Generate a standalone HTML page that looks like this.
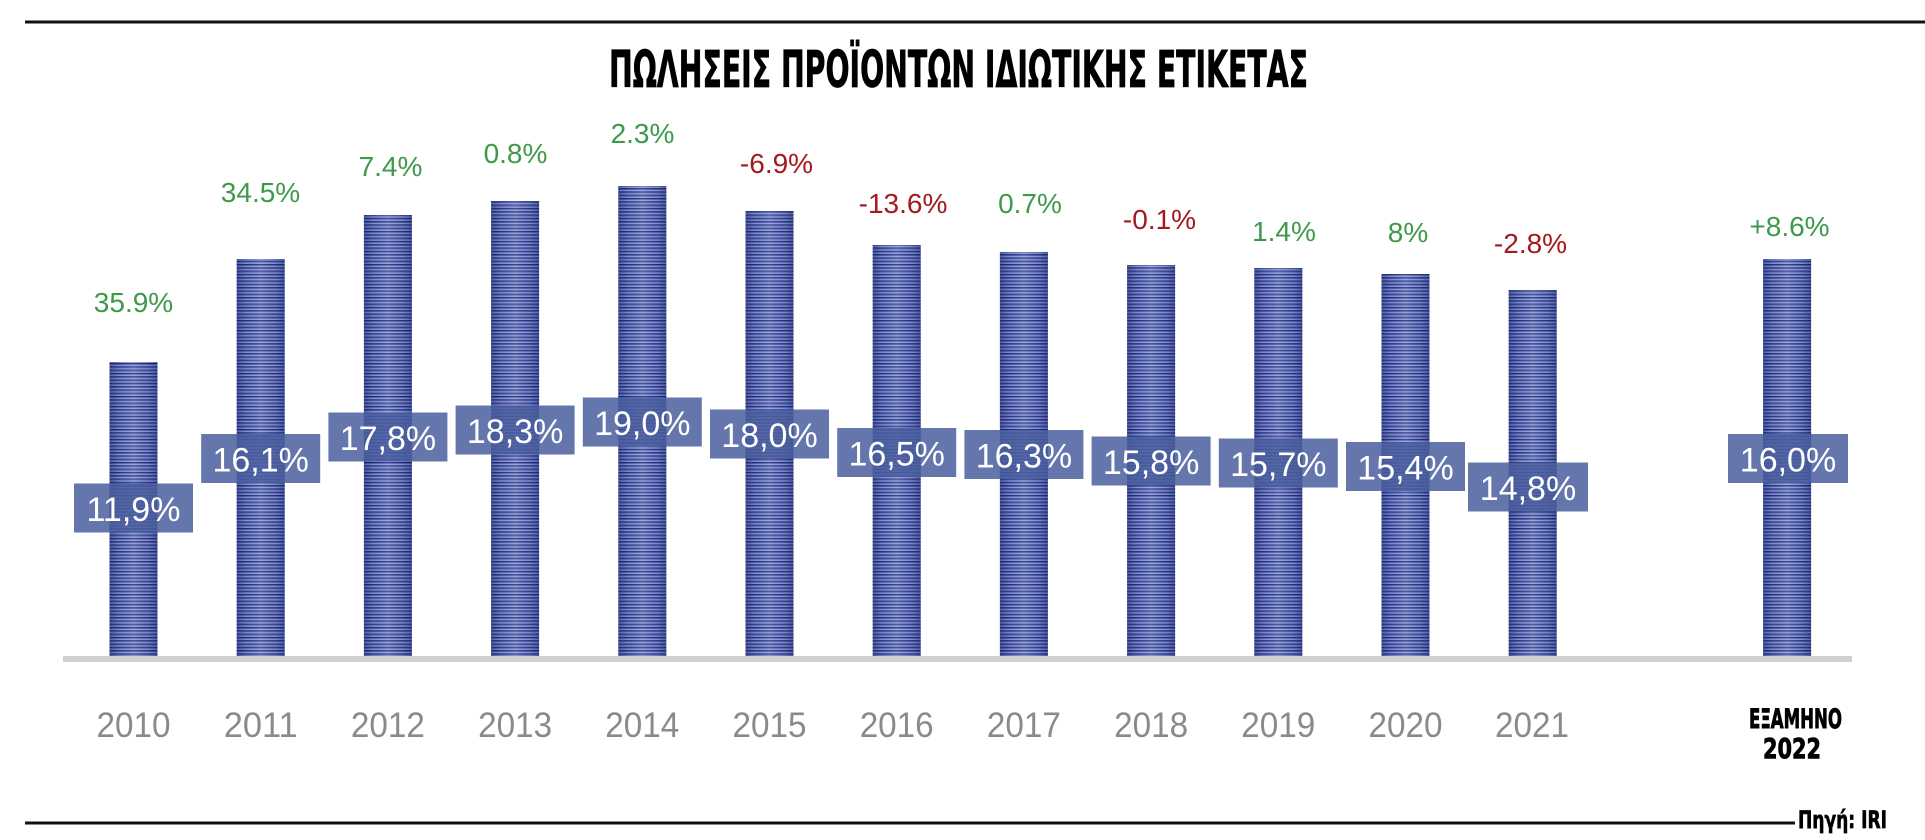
<!DOCTYPE html>
<html>
<head>
<meta charset="utf-8">
<style>
html,body{margin:0;padding:0;background:#fff;}
svg{display:block;}
</style>
</head>
<body>
<svg width="1925" height="840" viewBox="0 0 1925 840" xmlns="http://www.w3.org/2000/svg">
<defs>
  <pattern id="stripes" patternUnits="userSpaceOnUse" width="10" height="3.3">
    <rect x="0" y="0" width="10" height="1.2" fill="#1e2b7e"/>
    <rect x="0" y="1.2" width="10" height="0.9" fill="#4253a8"/>
    <rect x="0" y="2.1" width="10" height="1.2" fill="#8a98d8"/>
  </pattern>
  <linearGradient id="cyl" x1="0" y1="0" x2="1" y2="0">
    <stop offset="0" stop-color="#101a60" stop-opacity="0.45"/>
    <stop offset="0.2" stop-color="#101a60" stop-opacity="0.1"/>
    <stop offset="0.5" stop-color="#ffffff" stop-opacity="0.12"/>
    <stop offset="0.8" stop-color="#101a60" stop-opacity="0.1"/>
    <stop offset="1" stop-color="#101a60" stop-opacity="0.45"/>
  </linearGradient>
</defs>

<!-- top rule -->
<rect x="25" y="20.5" width="1900" height="3" fill="#111"/>

<!-- title -->
<text x="609" y="87" font-family="'DejaVu Sans','Liberation Sans',sans-serif" font-weight="bold" font-size="51" textLength="699" lengthAdjust="spacingAndGlyphs" fill="#000" stroke="#000" stroke-width="0.8">ΠΩΛΗΣΕΙΣ ΠΡΟΪΟΝΤΩΝ ΙΔΙΩΤΙΚΗΣ ΕΤΙΚΕΤΑΣ</text>

<!-- baseline -->
<rect x="63" y="656" width="1789" height="6" fill="#d0d0d0"/>

<!-- bars -->
<g>
  <rect x="109.5" y="362" width="48" height="294" fill="url(#stripes)"/>
  <rect x="236.7" y="259" width="48" height="397" fill="url(#stripes)"/>
  <rect x="363.9" y="215" width="48" height="441" fill="url(#stripes)"/>
  <rect x="491.1" y="201" width="48" height="455" fill="url(#stripes)"/>
  <rect x="618.3" y="186" width="48" height="470" fill="url(#stripes)"/>
  <rect x="745.5" y="211" width="48" height="445" fill="url(#stripes)"/>
  <rect x="872.7" y="245" width="48" height="411" fill="url(#stripes)"/>
  <rect x="999.9" y="252" width="48" height="404" fill="url(#stripes)"/>
  <rect x="1127.1" y="265" width="48" height="391" fill="url(#stripes)"/>
  <rect x="1254.3" y="268" width="48" height="388" fill="url(#stripes)"/>
  <rect x="1381.5" y="274" width="48" height="382" fill="url(#stripes)"/>
  <rect x="1508.7" y="290" width="48" height="366" fill="url(#stripes)"/>
  <rect x="1763.1" y="259" width="48" height="397" fill="url(#stripes)"/>
</g>
<g>
  <rect x="109.5" y="362" width="48" height="294" fill="url(#cyl)"/>
  <rect x="236.7" y="259" width="48" height="397" fill="url(#cyl)"/>
  <rect x="363.9" y="215" width="48" height="441" fill="url(#cyl)"/>
  <rect x="491.1" y="201" width="48" height="455" fill="url(#cyl)"/>
  <rect x="618.3" y="186" width="48" height="470" fill="url(#cyl)"/>
  <rect x="745.5" y="211" width="48" height="445" fill="url(#cyl)"/>
  <rect x="872.7" y="245" width="48" height="411" fill="url(#cyl)"/>
  <rect x="999.9" y="252" width="48" height="404" fill="url(#cyl)"/>
  <rect x="1127.1" y="265" width="48" height="391" fill="url(#cyl)"/>
  <rect x="1254.3" y="268" width="48" height="388" fill="url(#cyl)"/>
  <rect x="1381.5" y="274" width="48" height="382" fill="url(#cyl)"/>
  <rect x="1508.7" y="290" width="48" height="366" fill="url(#cyl)"/>
  <rect x="1763.1" y="259" width="48" height="397" fill="url(#cyl)"/>
</g>

<!-- value boxes -->
<g fill="#4a5e9d" fill-opacity="0.85">
  <rect x="74" y="483.5" width="119" height="49"/>
  <rect x="201.2" y="434" width="119" height="49"/>
  <rect x="328.4" y="412.5" width="119" height="49"/>
  <rect x="455.6" y="405.5" width="119" height="49"/>
  <rect x="582.8" y="397.5" width="119" height="49"/>
  <rect x="710" y="409.5" width="119" height="49"/>
  <rect x="837.2" y="428" width="119" height="49"/>
  <rect x="964.4" y="430" width="119" height="49"/>
  <rect x="1091.6" y="436.5" width="119" height="49"/>
  <rect x="1218.8" y="438.5" width="119" height="49"/>
  <rect x="1346" y="442" width="119" height="49"/>
  <rect x="1468" y="462.5" width="120" height="49"/>
  <rect x="1728" y="434" width="120" height="49"/>
</g>
<g font-family="'Liberation Sans',Arial,sans-serif" font-size="34" fill="#ffffff" text-anchor="middle">
  <text x="133.5" y="521">11,9%</text>
  <text x="260.7" y="471.5">16,1%</text>
  <text x="387.9" y="450">17,8%</text>
  <text x="515.1" y="443">18,3%</text>
  <text x="642.3" y="435">19,0%</text>
  <text x="769.5" y="447">18,0%</text>
  <text x="896.7" y="465.5">16,5%</text>
  <text x="1023.9" y="467.5">16,3%</text>
  <text x="1151.1" y="474">15,8%</text>
  <text x="1278.3" y="476">15,7%</text>
  <text x="1405.5" y="479.5">15,4%</text>
  <text x="1528" y="500">14,8%</text>
  <text x="1788" y="471.5">16,0%</text>
</g>

<!-- growth labels -->
<g font-family="'Liberation Sans',Arial,sans-serif" font-size="28" text-anchor="middle">
  <text x="133.5" y="312" fill="#3d9a4c">35.9%</text>
  <text x="260.5" y="202" fill="#3d9a4c">34.5%</text>
  <text x="390.5" y="176" fill="#3d9a4c">7.4%</text>
  <text x="515.5" y="163" fill="#3d9a4c">0.8%</text>
  <text x="642.5" y="143" fill="#3d9a4c">2.3%</text>
  <text x="776.5" y="173" fill="#a3191d">-6.9%</text>
  <text x="903" y="213" fill="#a3191d">-13.6%</text>
  <text x="1030" y="213" fill="#3d9a4c">0.7%</text>
  <text x="1159.5" y="229" fill="#a3191d">-0.1%</text>
  <text x="1284" y="241" fill="#3d9a4c">1.4%</text>
  <text x="1408" y="242" fill="#3d9a4c">8%</text>
  <text x="1530.5" y="253" fill="#a3191d">-2.8%</text>
  <text x="1789.5" y="236" fill="#3d9a4c">+8.6%</text>
</g>

<!-- x axis labels -->
<g font-family="'Liberation Sans',Arial,sans-serif" font-size="35" fill="#8a8a8a" text-anchor="middle">
  <text x="133.5" y="737" textLength="74" lengthAdjust="spacingAndGlyphs">2010</text>
  <text x="260.7" y="737" textLength="74" lengthAdjust="spacingAndGlyphs">2011</text>
  <text x="387.9" y="737" textLength="74" lengthAdjust="spacingAndGlyphs">2012</text>
  <text x="515.1" y="737" textLength="74" lengthAdjust="spacingAndGlyphs">2013</text>
  <text x="642.3" y="737" textLength="74" lengthAdjust="spacingAndGlyphs">2014</text>
  <text x="769.5" y="737" textLength="74" lengthAdjust="spacingAndGlyphs">2015</text>
  <text x="896.7" y="737" textLength="74" lengthAdjust="spacingAndGlyphs">2016</text>
  <text x="1023.9" y="737" textLength="74" lengthAdjust="spacingAndGlyphs">2017</text>
  <text x="1151.1" y="737" textLength="74" lengthAdjust="spacingAndGlyphs">2018</text>
  <text x="1278.3" y="737" textLength="74" lengthAdjust="spacingAndGlyphs">2019</text>
  <text x="1405.5" y="737" textLength="74" lengthAdjust="spacingAndGlyphs">2020</text>
  <text x="1532" y="737" textLength="74" lengthAdjust="spacingAndGlyphs">2021</text>
</g>
<g font-family="'DejaVu Sans','Liberation Sans',sans-serif" font-weight="bold" fill="#000" stroke="#000" stroke-width="0.9">
  <text x="1749" y="728" font-size="27" textLength="93" lengthAdjust="spacingAndGlyphs">ΕΞΑΜΗΝΟ</text>
  <text x="1763" y="758" font-size="28" textLength="58" lengthAdjust="spacingAndGlyphs">2022</text>
</g>

<!-- bottom rule and source -->
<rect x="25" y="821.5" width="1770" height="3" fill="#111"/>
<text x="1798" y="828" font-family="'DejaVu Sans','Liberation Sans',sans-serif" font-weight="bold" font-size="24" textLength="89" lengthAdjust="spacingAndGlyphs" fill="#000" stroke="#000" stroke-width="0.7">Πηγή: IRI</text>
</svg>
</body>
</html>
